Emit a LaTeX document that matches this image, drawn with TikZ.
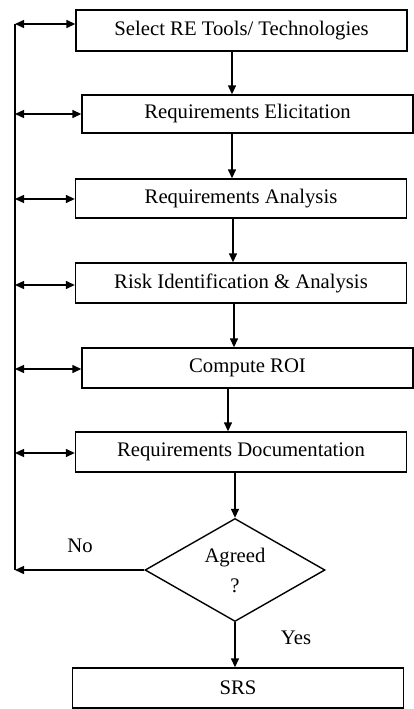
\documentclass[tikz,border=0pt]{standalone}
\usepackage{fontspec}
\setmainfont{Liberation Serif}
\usetikzlibrary{arrows.meta,shapes.geometric}
\begin{document}
\begin{tikzpicture}[x=1pt,y=-1pt,
  font=\fontsize{20.7}{24}\selectfont,
  box/.style={draw, line width=1.4pt, minimum width=331pt, minimum height=40pt, inner sep=0pt},
  dec/.style={draw, diamond, line width=1.4pt, minimum width=180pt, minimum height=103pt, inner sep=0pt},
  conn/.style={line width=1.4pt, -{Triangle[length=9pt,width=8pt]}},
  both/.style={line width=1.4pt, {Triangle[length=9pt,width=8pt]}-{Triangle[length=9pt,width=8pt]}},
  plain/.style={line width=1.4pt}]
\useasboundingbox (0,0) rectangle (414,709);
\node[box, minimum height=41pt] (b1) at (241.5,30.5) {Select RE Tools/ Technologies};
\node[box, minimum height=38pt] (b2) at (247.5,114) {Requirements Elicitation};
\node[box, minimum height=39pt] (b3) at (241,198.5) {Requirements Analysis};
\node[box] (b4) at (241,283) {Risk Identification \& Analysis};
\node[box] (b5) at (247.5,368) {Compute ROI};
\node[box] (b6) at (241,452) {Requirements Documentation};
\node[dec] (d) at (235,570) {};
\node (ag) at (235,558) {Agreed};
\node (q) at (235,586) {?};
\node[box] (srs) at (238,688) {SRS};
\node (no) at (80,546) {No};
\node (yes) at (296,638) {Yes};
% left return line
\coordinate (l1) at (15,24);
\coordinate (l2) at (15,114);
\coordinate (l3) at (15,199);
\coordinate (l4) at (15,285);
\coordinate (l5) at (15,369);
\coordinate (l6) at (15,453);
\coordinate (l7) at (15,570);
\draw[plain] (l7) -- (l1);
\draw[both] (l1) -- (l1 -| b1.west);
\draw[both] (l2) -- (l2 -| b2.west);
\draw[both] (l3) -- (l3 -| b3.west);
\draw[both] (l4) -- (l4 -| b4.west);
\draw[both] (l5) -- (l5 -| b5.west);
\draw[both] (l6) -- (l6 -| b6.west);
\draw[conn] (d.west) -- (l7);
% main flow
\coordinate (c1) at (232,0);
\coordinate (c2) at (232,0);
\coordinate (c3) at (233,0);
\coordinate (c4) at (234,0);
\coordinate (c5) at (228,0);
\draw[conn] (c1 |- b1.south) -- (c1 |- b2.north);
\draw[conn] (c2 |- b2.south) -- (c2 |- b3.north);
\draw[conn] (c3 |- b3.south) -- (c3 |- b4.north);
\draw[conn] (c4 |- b4.south) -- (c4 |- b5.north);
\draw[conn] (c5 |- b5.south) -- (c5 |- b6.north);
\draw[conn] (b6.south -| d.north) -- (d.north);
\draw[conn] (d.south) -- (d.south |- srs.north);
\end{tikzpicture}
\end{document}
